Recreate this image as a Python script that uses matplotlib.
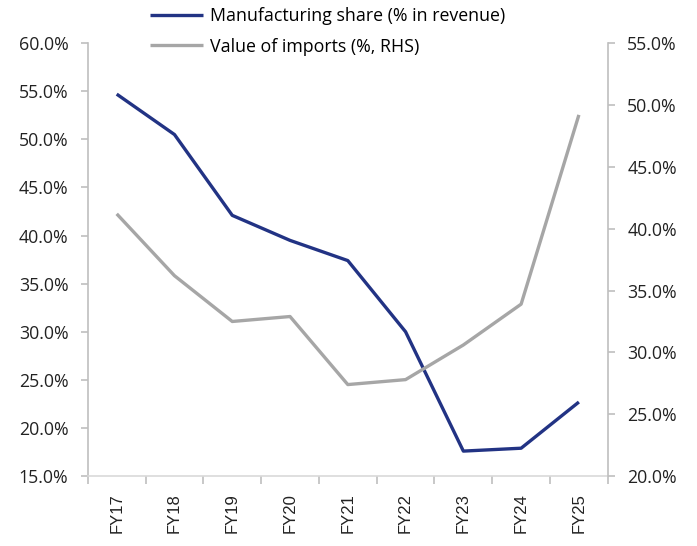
import matplotlib
matplotlib.use("Agg")
import matplotlib.pyplot as plt
from matplotlib.ticker import FuncFormatter, FixedLocator

years = ["FY17", "FY18", "FY19", "FY20", "FY21", "FY22", "FY23", "FY24", "FY25"]
manufacturing_share = [54.7, 50.5, 42.1, 39.5, 37.4, 30.0, 17.6, 17.9, 22.7]
imports_value = [41.2, 36.2, 32.5, 32.9, 27.4, 27.8, 30.6, 33.9, 49.2]

navy = "#223384"
grey = "#a6a6a6"
spine_c = "#bfbfbf"
tick_font = "Open Sans"

fig = plt.figure(figsize=(6.97, 5.46), dpi=100)
ax = fig.add_axes([0.126, 0.128, 0.746, 0.793])
ax2 = ax.twinx()

x = list(range(len(years)))
l1, = ax.plot(x, manufacturing_share, color=navy, lw=2.4, solid_capstyle="butt",
              label="Manufacturing share (% in revenue)")
l2, = ax2.plot(x, imports_value, color=grey, lw=2.4, solid_capstyle="butt",
               label="Value of imports (%, RHS)")

ax.set_xlim(-0.5, len(years) - 0.5)
ax.set_ylim(15, 60)
ax2.set_ylim(20, 55)
ax.set_yticks([15 + 5 * i for i in range(10)])
ax2.set_yticks([20 + 5 * i for i in range(8)])
fmt = FuncFormatter(lambda v, p: f"{v:.1f}%")
ax.yaxis.set_major_formatter(fmt)
ax2.yaxis.set_major_formatter(fmt)

ax.set_xticks(x)
ax.set_xticklabels(years, rotation=90, fontsize=12, family="Liberation Sans", color="#222222")
ax.tick_params(axis="x", which="major", length=0, pad=12)
ax.xaxis.set_minor_locator(FixedLocator([i - 0.5 for i in range(len(years) + 1)]))
ax.tick_params(axis="x", which="minor", length=6, color=spine_c, width=1.2)

for a in (ax, ax2):
    for s in a.spines.values():
        s.set_visible(False)
    a.tick_params(axis="y", length=5, color=spine_c, width=1.2, labelsize=12.8,
                  labelcolor="#222222", pad=9)
    for lab in a.get_yticklabels():
        lab.set_family(tick_font)
ax.spines["left"].set_visible(True)
ax.spines["left"].set_color(spine_c)
ax.spines["left"].set_linewidth(1.2)
ax.spines["bottom"].set_visible(True)
ax.spines["bottom"].set_color("#d9d9d9")
ax.spines["bottom"].set_linewidth(1.2)
ax2.spines["right"].set_visible(True)
ax2.spines["right"].set_color(spine_c)
ax2.spines["right"].set_linewidth(1.2)

fig.legend(handles=[l1, l2], loc="upper left", bbox_to_anchor=(0.205, 1.0),
           frameon=False, prop={"family": tick_font, "size": 12.8},
           handlelength=3.0, handletextpad=0.35, labelspacing=0.7, borderaxespad=0)

fig.savefig("out.png", dpi=100)
